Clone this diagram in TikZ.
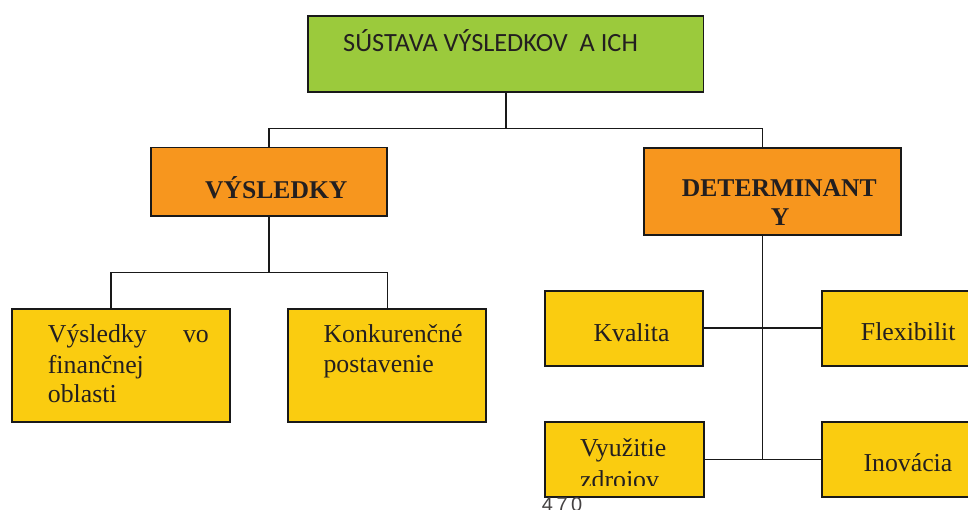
\documentclass[tikz,border=0pt]{standalone}
\usepackage{fontspec}
\setmainfont{Liberation Serif}
\newfontfamily\titlefont{Carlito}
\newfontfamily\pagefont{Liberation Sans}
\definecolor{boxgreen}{HTML}{9BCA3C}
\definecolor{boxorange}{HTML}{F7961E}
\definecolor{boxyellow}{HTML}{FACC10}
\definecolor{textgray}{HTML}{231F20}
\tikzset{
  box/.style={draw=black!90, line width=1.8pt, rectangle, inner sep=0pt},
  conn/.style={draw=black!90, line width=1.6pt},
  txt/.style={anchor=base west, inner sep=0pt, text=textgray, font=\fontsize{25.8}{30}\selectfont},
  btxt/.style={txt, font=\fontsize{25.6}{30}\selectfont\bfseries},
}
\begin{document}
\begin{tikzpicture}[x=1pt,y=-1pt]
\useasboundingbox (0,0) rectangle (968,509);
\clip (0,0) rectangle (968,509);

% boxes
\node[box, fill=boxgreen, minimum width=395.5pt, minimum height=75.7pt] (top) at (505.75,53.85) {};
\node[box, fill=boxorange, minimum width=236.3pt, minimum height=68.5pt] (vys) at (268.85,181.75) {};
\node[box, fill=boxorange, minimum width=256.7pt, minimum height=87pt] (det) at (772.35,191.2) {};
\node[box, fill=boxyellow, minimum width=217.7pt, minimum height=113pt] (fin) at (120.85,365.8) {};
\node[box, fill=boxyellow, minimum width=198pt, minimum height=113pt] (kon) at (387.3,365.8) {};
\node[box, fill=boxyellow, minimum width=158.6pt, minimum height=75pt] (kva) at (624,328.2) {};
\node[box, fill=boxyellow, minimum width=153.3pt, minimum height=75pt] (fle) at (898.35,328.2) {};
\node[box, fill=boxyellow, minimum width=158.7pt, minimum height=74.5pt] (vyu) at (624.35,459.55) {};
\node[box, fill=boxyellow, minimum width=153.3pt, minimum height=74.5pt] (ino) at (898.35,459.55) {};

% junction coordinates
\coordinate (j1) at (505.75,128.5);
\coordinate (j1l) at (268.85,128.5);
\coordinate (j1r) at (762.5,128.5);
\coordinate (j2) at (268.85,272.3);
\coordinate (j2l) at (111,272.3);
\coordinate (j2r) at (387.3,272.3);
\coordinate (j3) at (762.5,234.7);

% connectors
\draw[conn] (top.south) -- (j1);
\draw[conn] (vys.north) -- (j1l) -- (j1r) -- (j1r |- det.north);
\draw[conn] (vys.south) -- (j2);
\draw[conn] (j2l |- fin.north) -- (j2l) -- (j2r) -- (kon.north);
\draw[conn] (j3 |- det.south) -- (j3 |- vyu.east);
\draw[conn] (kva.east) -- (fle.west);
\draw[conn] (vyu.east) -- (ino.west);

% texts
\node[txt, font=\titlefont\fontsize{26.3}{30}\selectfont] (ttop) at (343,51.7) {SÚSTAVA VÝSLEDKOV\ \ A ICH};
\node[btxt] (tvys) at (205,198.3) {VÝSLEDKY};
\node[btxt] (tdet1) at (681.7,196.7) {DETERMINANT};
\node[btxt, anchor=base] (tdet2) at (780,225) {Y};
\node[txt] (tfin1) at (47.7,342.3) {Výsledky};
\node[txt, anchor=base east] (tfin1b) at (209,342.3) {vo};
\node[txt] (tfin2) at (47.7,373.3) {finančnej};
\node[txt] (tfin3) at (47.7,402.7) {oblasti};
\node[txt] (tkon1) at (323.3,342.3) {Konkurenčné};
\node[txt] (tkon2) at (323.3,372.7) {postavenie};
\node[txt] (tkva) at (593.3,341) {Kvalita};
\node[txt] (tfle) at (860.7,340) {Flexibilit};
\node[txt] (tvyu1) at (580,456.7) {Využitie};
\begin{scope}
\clip (545,422.3) rectangle (703.7,485.6);
\node[txt] (tvyu2) at (580,488) {zdrojov};
\end{scope}
\node[txt] (tino) at (863.3,471.7) {Inovácia};
\node[anchor=base west, inner sep=0pt, text=textgray!85, font=\pagefont\fontsize{20}{24}\selectfont] (page) at (541.7,511.5) {4\kern3.5pt7\kern3.5pt0};
\end{tikzpicture}
\end{document}
